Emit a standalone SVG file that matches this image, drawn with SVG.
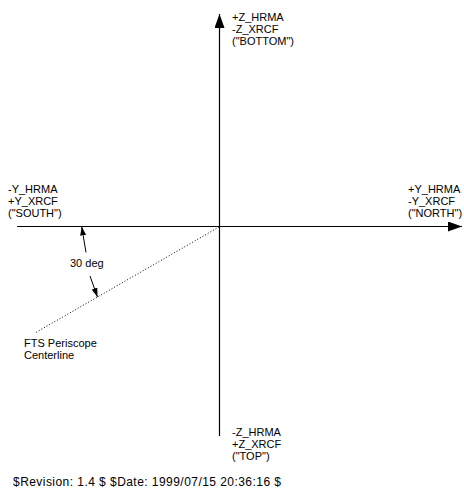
<svg xmlns="http://www.w3.org/2000/svg" width="464" height="492" viewBox="0 0 464 492">
<style>
text{font-family:"Liberation Sans",Arial,Helvetica,sans-serif;font-size:11px;fill:#000}
.foot{font-size:12px}
.ax{stroke:#000;stroke-width:1.2;fill:none}
.thin{stroke:#000;stroke-width:1;fill:none}
.dot{stroke:#000;stroke-width:1;stroke-dasharray:1 2;fill:none}
</style>
<defs>
<marker id="big" markerWidth="14" markerHeight="10" refX="14" refY="5" orient="auto" markerUnits="userSpaceOnUse"><path d="M0,0 L14,5 L0,10 Z" fill="#000"/></marker>
<marker id="small" markerWidth="9" markerHeight="6" refX="9" refY="3" orient="auto" markerUnits="userSpaceOnUse"><path d="M0,0 L9,3 L0,6 Z" fill="#000"/></marker>
</defs>
<rect width="464" height="492" fill="#fff"/>
<g id="connectors">
<line class="ax" x1="219.5" y1="436" x2="219.5" y2="14" marker-end="url(#big)"/>
<line class="ax" x1="17" y1="226.5" x2="462" y2="226.5" marker-end="url(#big)"/>
<line class="dot" x1="219" y1="227" x2="35" y2="333"/>
<line class="thin" x1="86" y1="252.5" x2="81.7" y2="226.5" marker-end="url(#small)"/>
<line class="thin" x1="90" y1="276" x2="97.5" y2="297" marker-end="url(#small)"/>
</g>
<g id="top-label"><text x="232" y="21">+Z_HRMA</text><text x="232" y="33">-Z_XRCF</text><text x="232" y="45">("BOTTOM")</text></g>
<g id="left-label"><text x="8" y="193">-Y_HRMA</text><text x="8" y="205">+Y_XRCF</text><text x="8" y="217">("SOUTH")</text></g>
<g id="right-label"><text x="408" y="193">+Y_HRMA</text><text x="408" y="205">-Y_XRCF</text><text x="408" y="217">("NORTH")</text></g>
<g id="bottom-label"><text x="232" y="436">-Z_HRMA</text><text x="232" y="448">+Z_XRCF</text><text x="232" y="460">("TOP")</text></g>
<g id="angle-label"><text x="70" y="267">30 deg</text></g>
<g id="periscope-label"><text x="24" y="347">FTS Periscope</text><text x="24" y="359">Centerline</text></g>
<g id="footer"><text class="foot" x="13" y="486" textLength="268" lengthAdjust="spacing">$Revision: 1.4 $ $Date: 1999/07/15 20:36:16 $</text></g>
</svg>
